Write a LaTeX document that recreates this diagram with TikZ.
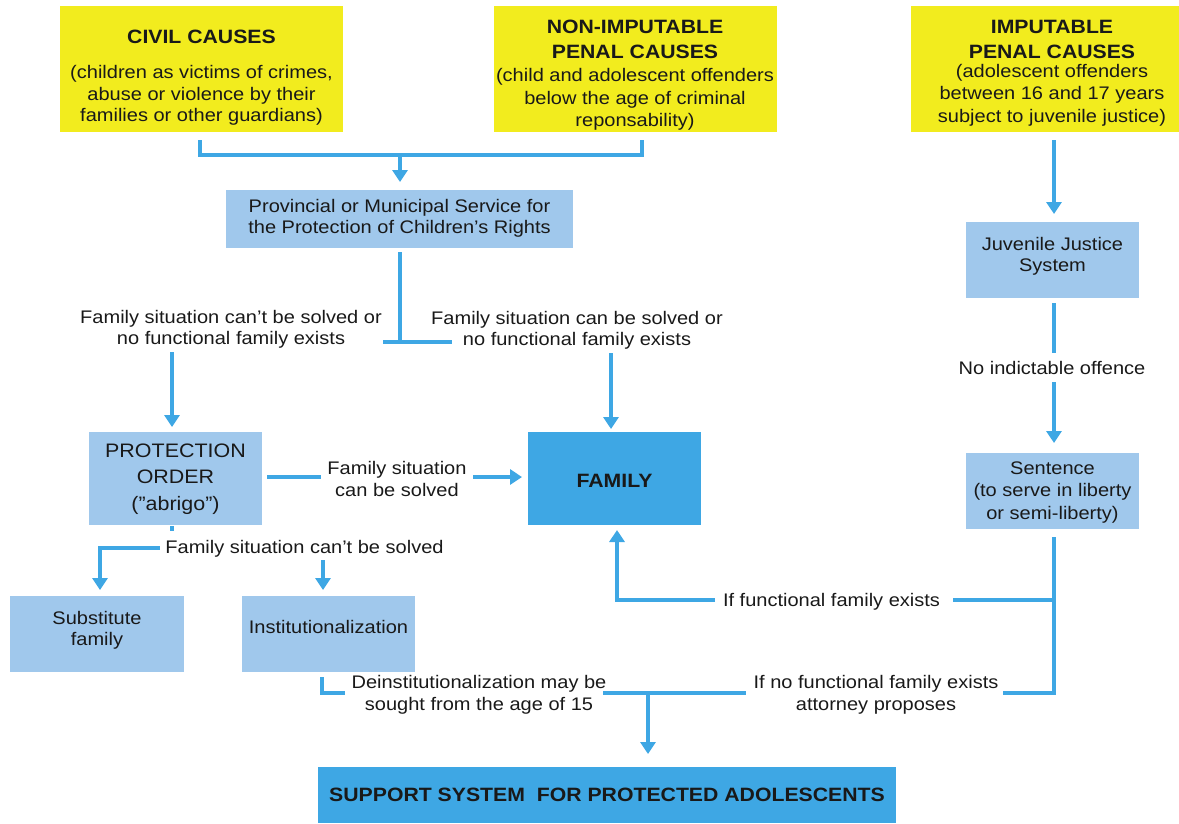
\documentclass[tikz,border=0pt]{standalone}
\usepackage{fontspec}
\setmainfont[FakeStretch=1.1]{Liberation Sans}
\usetikzlibrary{arrows.meta}
\definecolor{cyel}{RGB}{242,236,30}
\definecolor{clb}{RGB}{160,200,236}
\definecolor{cdb}{RGB}{62,167,228}
\definecolor{cln}{RGB}{62,167,228}
\definecolor{ctx}{RGB}{25,25,25}
\newcommand{\rgf}{\fontsize{18.2}{21.5}\selectfont}
\newcommand{\rgl}{\fontsize{18.2}{22.5}\selectfont}
\newcommand{\bdf}{\fontsize{19.3}{25}\selectfont\bfseries}
\begin{document}
\begin{tikzpicture}[x=1pt,y=-1pt,
  bx/.style={rectangle, inner sep=0pt, outer sep=0pt, text=ctx, align=center, font=\rgf},
  ybox/.style={bx, fill=cyel},
  lbox/.style={bx, fill=clb},
  dbox/.style={bx, fill=cdb},
  txt/.style={inner sep=0pt, outer sep=0pt, text=ctx, align=center, font=\rgf, yshift=-2pt},
  wide/.style={font=\rgl},
  title/.style={font=\bdf},
  ln/.style={draw=cln, line width=4.5pt},
  arr/.style={ln, -{Triangle[width=15pt,length=12pt]}}]
\useasboundingbox (0,0) rectangle (1179,823);

% ---- boxes
\node[ybox, minimum width=283pt, minimum height=126pt] (civil) at (201.5,69) {};
\node[txt, title] (civilT) at (201.5,34.5) {CIVIL CAUSES};
\node[txt] (civilB) at (201.5,93.5) {(children as victims of crimes,\\abuse or violence by their\\families or other guardians)};

\node[ybox, minimum width=283pt, minimum height=126pt] (non) at (635.5,69) {};
\node[txt, title] (nonT) at (635,37) {NON-IMPUTABLE\\PENAL CAUSES};
\node[txt, wide] (nonB) at (635,97.5) {(child and adolescent offenders\\below the age of criminal\\reponsability)};

\node[ybox, minimum width=268pt, minimum height=126pt] (imp) at (1045,69) {};
\node[txt, title] (impT) at (1052,37) {IMPUTABLE\\PENAL CAUSES};
\node[txt, wide] (impB) at (1052,93) {(adolescent offenders\\between 16 and 17 years\\subject to juvenile justice)};

\node[lbox, minimum width=347pt, minimum height=58pt] (prov) at (399.5,219) {};
\node[txt] (provT) at (399.5,216.5) {Provincial or Municipal Service for\\the Protection of Children’s Rights};

\node[lbox, minimum width=173pt, minimum height=76pt] (juv) at (1052.5,260) {};
\node[txt] (juvT) at (1052.5,254.5) {Juvenile Justice\\System};

\node[lbox, minimum width=173pt, minimum height=76pt] (sent) at (1052.5,491) {};
\node[txt, wide] (sentT) at (1052.5,490.5) {Sentence\\(to serve in liberty\\or semi-liberty)};

\node[lbox, minimum width=173pt, minimum height=93pt] (prot) at (175.5,478.5) {};
\node[txt, font={\fontsize{19.5}{26.5}\selectfont}] (protT) at (175.5,477)
  {PROTECTION\\ORDER\\(”abrigo”)};

\node[dbox, minimum width=173pt, minimum height=93pt] (fam) at (614.5,478.5) {};
\node[txt, title] (famT) at (614.5,478.5) {FAMILY};

\node[lbox, minimum width=174pt, minimum height=76pt] (subst) at (97,634) {};
\node[txt] (substT) at (97,628.5) {Substitute\\family};

\node[lbox, minimum width=173pt, minimum height=76pt] (inst) at (328.5,634) {};
\node[txt] (instT) at (328.5,625) {Institutionalization};

\node[dbox, title, minimum width=578pt, minimum height=56pt] (supp) at (607,795)
  {SUPPORT SYSTEM\ \ FOR PROTECTED ADOLESCENTS};

% ---- labels
\node[txt] (l1) at (231,327.5) {Family situation can’t be solved or\\no functional family exists};
\node[txt] (l2) at (577,328.5) {Family situation can be solved or\\no functional family exists};
\node[txt] (l3) at (397,477) {Family situation\\can be solved};
\node[txt] (l4) at (304.5,547) {Family situation can’t be solved};
\node[txt] (l5) at (1052,366) {No indictable offence};
\node[txt] (l6) at (831.5,599.5) {If functional family exists};
\node[txt] (l7) at (479,693) {Deinstitutionalization may be\\sought from the age of 15};
\node[txt] (l8) at (876,693) {If no functional family exists\\attorney proposes};

% ---- junction coordinates
\coordinate (a1) at (200,140);  \coordinate (a2) at (200,155);
\coordinate (a3) at (642,155);  \coordinate (a4) at (642,140);
\coordinate (a5) at (400,155);  \coordinate (a6) at (400,182);
\coordinate (b1) at (400,252);  \coordinate (b2) at (400,342);
\coordinate (b3) at (383,342);  \coordinate (b4) at (452,342);
\coordinate (b5) at (172,352);  \coordinate (b6) at (172,427);
\coordinate (b7) at (611,353);  \coordinate (b8) at (611,429);
\coordinate (c1) at (267,477);  \coordinate (c2) at (321,477);
\coordinate (c3) at (473,477);  \coordinate (c4) at (522,477);
\coordinate (d1) at (172,526);  \coordinate (d2) at (172,531);
\coordinate (d3) at (160,548);  \coordinate (d4) at (100,548);
\coordinate (d5) at (100,590);  \coordinate (d6) at (323,560);
\coordinate (d7) at (323,590);
\coordinate (e1) at (1054,140); \coordinate (e2) at (1054,214);
\coordinate (e3) at (1054,303); \coordinate (e4) at (1054,353);
\coordinate (e5) at (1054,382); \coordinate (e6) at (1054,443);
\coordinate (f1) at (1054,537); \coordinate (f2) at (1054,693);
\coordinate (f3) at (1003,693); \coordinate (f4) at (1054,600);
\coordinate (f5) at (953,600);  \coordinate (f6) at (715,600);
\coordinate (f7) at (617,600);  \coordinate (f8) at (617,530);
\coordinate (g1) at (322,677);  \coordinate (g2) at (322,693);
\coordinate (g3) at (345,693);  \coordinate (g4) at (603,693);
\coordinate (g5) at (746,693);  \coordinate (g6) at (648,693);
\coordinate (g7) at (648,754);

% ---- connectors
\draw[ln] (a1) -- (a2) -- (a3) -- (a4);
\draw[arr] (a5) -- (a6);
\draw[ln] (b1) -- (b2);
\draw[ln] (b3) -- (b4);
\draw[arr] (b5) -- (b6);
\draw[arr] (b7) -- (b8);
\draw[ln] (c1) -- (c2);
\draw[arr] (c3) -- (c4);
\draw[ln] (d1) -- (d2);
\draw[arr] (d3) -- (d4) -- (d5);
\draw[arr] (d6) -- (d7);
\draw[arr] (e1) -- (e2);
\draw[ln] (e3) -- (e4);
\draw[arr] (e5) -- (e6);
\draw[ln] (f1) -- (f2) -- (f3);
\draw[ln] (f4) -- (f5);
\draw[arr] (f6) -- (f7) -- (f8);
\draw[ln] (g1) -- (g2) -- (g3);
\draw[ln] (g4) -- (g5);
\draw[arr] (g6) -- (g7);
\end{tikzpicture}
\end{document}
